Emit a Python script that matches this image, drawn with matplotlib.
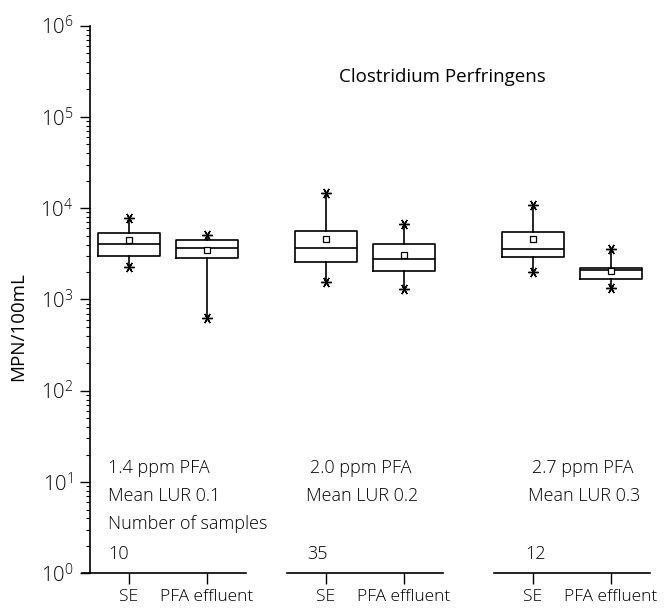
import matplotlib
matplotlib.use("Agg")
import matplotlib.pyplot as plt
from matplotlib.ticker import LogLocator, NullFormatter

# DATA (MPN/100mL)
groups = ["1.4 ppm PFA", "2.0 ppm PFA", "2.7 ppm PFA"]
lur_labels = ["Mean LUR 0.1", "Mean LUR 0.2", "Mean LUR 0.3"]
sample_counts = [10, 35, 12]
tick_labels = ["SE", "PFA effluent"]

se_max = [7900, 14800, 10900]
se_q3 = [5300, 5600, 5500]
se_med = [4100, 3700, 3600]
se_mean = [4500, 4600, 4550]
se_q1 = [3000, 2550, 2950]
se_min = [2250, 1570, 2000]

pfa_max = [5100, 6700, 3550]
pfa_q3 = [4500, 4050, 2200]
pfa_med = [3700, 2750, 2090]
pfa_mean = [3500, 3050, 2070]
pfa_q1 = [2870, 2070, 1680]
pfa_min = [620, 1290, 1330]

plt.rcParams["font.family"] = ["Open Sans", "DejaVu Sans"]
plt.rcParams["font.weight"] = "light"
plt.rcParams["mathtext.fontset"] = "custom"
plt.rcParams["mathtext.rm"] = "Open Sans:light"

fig = plt.figure(figsize=(6.65, 6.1), dpi=100)

W, H = 665, 610
bottom = (H - 573.3) / H
height = 547.6 / H
lefts = [90, 287, 494]

# one axes per group
axes = []
for i, left in enumerate(lefts):
    ax = fig.add_axes([left / W, bottom, 156 / W, height])
    ax.patch.set_visible(False)
    ax.set_yscale("log")
    ax.set_ylim(1, 1e6)
    ax.set_xlim(0.5, 2.5)
    for s in ["top", "right"]:
        ax.spines[s].set_visible(False)
    if i > 0:
        ax.spines["left"].set_visible(False)
        ax.tick_params(axis="y", which="both", left=False, labelleft=False)
    axes.append(ax)

# BOXES
for i, ax in enumerate(axes):
    stats = [
        {"med": se_med[i], "q1": se_q1[i], "q3": se_q3[i],
         "whislo": se_min[i], "whishi": se_max[i], "mean": se_mean[i],
         "fliers": [se_min[i], se_max[i]]},
        {"med": pfa_med[i], "q1": pfa_q1[i], "q3": pfa_q3[i],
         "whislo": pfa_min[i], "whishi": pfa_max[i], "mean": pfa_mean[i],
         "fliers": [pfa_min[i], pfa_max[i]]},
    ]
    ax.bxp(stats, positions=[1, 2], widths=0.8, showmeans=True, showcaps=False,
           boxprops=dict(color="black", linewidth=1.2),
           medianprops=dict(color="black", linewidth=1.2),
           whiskerprops=dict(color="black", linewidth=1.2),
           meanprops=dict(marker="s", markerfacecolor="white",
                          markeredgecolor="black", markersize=5,
                          markeredgewidth=0.9),
           flierprops=dict(marker=(6, 2, 90), markeredgecolor="black",
                           markersize=7.5, markeredgewidth=1))
    ax.set_xticks([1, 2])
    ax.set_xticklabels(tick_labels, fontsize=12.5)
    ax.tick_params(axis="x", length=8, width=1, pad=3)
    ax.spines["bottom"].set_linewidth(1.2)

axes[0].spines["bottom"].set_bounds(0.4, 2.5)

# Y AXIS
ax = axes[0]
ax.spines["left"].set_linewidth(1.2)
ax.yaxis.set_major_locator(LogLocator(base=10, numticks=10))
ax.yaxis.set_minor_locator(LogLocator(base=10, subs=range(2, 10), numticks=20))
ax.yaxis.set_minor_formatter(NullFormatter())
ax.tick_params(axis="y", which="major", length=7, width=1, labelsize=14.5, pad=5)
ax.tick_params(axis="y", which="minor", length=3, width=0.8)
ax.set_ylabel("MPN/100mL", fontsize=13.5)
ax.yaxis.set_label_coords(-0.40, 0.45)

# GROUP TEXT
text_x = [0.73, 0.80, 0.99]
count_x = [0.73, 0.76, 0.90]
for i, ax in enumerate(axes):
    tr = ax.get_xaxis_transform()
    ax.text(text_x[i], 0.183, groups[i], transform=tr, fontsize=13, va="baseline")
    ax.text(text_x[i] - 0.05 * (i > 0), 0.132, lur_labels[i], transform=tr,
            fontsize=13, va="baseline")
    if i == 0:
        ax.text(text_x[i], 0.081, "Number of samples", transform=tr,
                fontsize=13, va="baseline")
    ax.text(count_x[i], 0.026, str(sample_counts[i]), transform=tr,
            fontsize=13, va="baseline")

# TITLE
fig.text(442 / W, 1 - 77 / H, "Clostridium Perfringens", fontsize=13.5,
         fontweight="normal", ha="center", va="center")

fig.savefig("out.png", dpi=100)
